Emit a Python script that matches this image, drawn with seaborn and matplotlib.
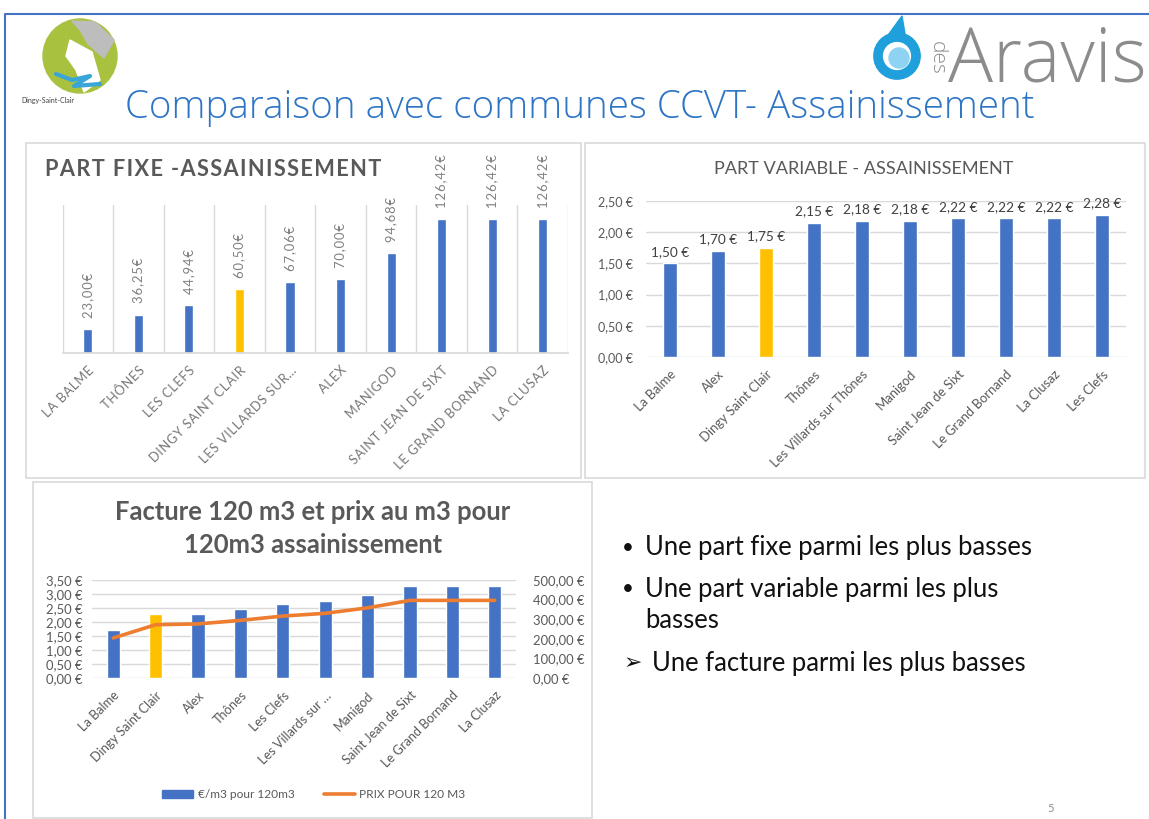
import numpy as np
import matplotlib
matplotlib.use("Agg")
import matplotlib.pyplot as plt
import seaborn as sns
from matplotlib.patches import Rectangle, Circle, Polygon
from matplotlib.lines import Line2D

# ---------------- data ----------------
fixe_cats = ["LA BALME", "THÔNES", "LES CLEFS", "DINGY SAINT CLAIR", "LES VILLARDS SUR…",
             "ALEX", "MANIGOD", "SAINT JEAN DE SIXT", "LE GRAND BORNAND", "LA CLUSAZ"]
fixe_vals = [23.00, 36.25, 44.94, 60.50, 67.06, 70.00, 94.68, 126.42, 126.42, 126.42]

var_cats = ["La Balme", "Alex", "Dingy Saint Clair", "Thônes", "Les Villards sur Thônes",
            "Manigod", "Saint Jean de Sixt", "Le Grand Bornand", "La Clusaz", "Les Clefs"]
var_vals = [1.50, 1.70, 1.75, 2.15, 2.18, 2.18, 2.22, 2.22, 2.22, 2.28]

fact_cats = ["La Balme", "Dingy Saint Clair", "Alex", "Thônes", "Les Clefs", "Les Villards sur …",
             "Manigod", "Saint Jean de Sixt", "Le Grand Bornand", "La Clusaz"]
fact_m3 = [1.70, 2.27, 2.30, 2.45, 2.63, 2.75, 2.98, 3.30, 3.30, 3.30]
fact_prix = [204, 272, 276, 294, 316, 330, 358, 396, 396, 396]

var_ticks = [0.0, 0.5, 1.0, 1.5, 2.0, 2.5]
fact_left_ticks = [0.0, 0.5, 1.0, 1.5, 2.0, 2.5, 3.0, 3.5]
fact_right_ticks = [0, 100, 200, 300, 400, 500]

highlight = "DINGY SAINT CLAIR"
series_names = ["€/m3 pour 120m3", "PRIX POUR 120 M3"]
bullets = ["Une part fixe parmi les plus basses",
           "Une part variable parmi les plus",
           "basses",
           "Une facture parmi les plus basses"]

# ---------------- style ----------------
sns.set_theme(style="white")
plt.rcParams["font.family"] = ["Lato", "DejaVu Sans"]

BLUE = "#4472C4"
YELLOW = "#FFC000"
ORANGE = "#ED7D31"
GRID = "#D9D9D9"
GREY = "#595959"
FAM = ["Lato", "DejaVu Sans"]
LIGHT = ["Open Sans", "DejaVu Sans"]

W, H = 1149, 819
fig = plt.figure(figsize=(W / 100, H / 100), dpi=100)
fig.patch.set_facecolor("white")


def rect(x0, y0, x1, y1):
    return [x0 / W, 1 - y1 / H, (x1 - x0) / W, (y1 - y0) / H]


def pal(cats):
    return [YELLOW if c.upper() == highlight else BLUE for c in cats]


def eur(v, dec=2, sep=" "):
    return f"{v:,.{dec}f}".replace(",", " ").replace(".", ",") + sep + "€"


def track(s, sp="\u200a"):
    return sp.join(s)


bg = fig.add_axes([0, 0, 1, 1], zorder=-5)
bg.set_xlim(0, W)
bg.set_ylim(H, 0)
bg.axis("off")
renderer = fig.canvas.get_renderer()


def fit_text(ax, x, y, s, width, **kw):
    t = ax.text(x, y, s, **kw)
    bb = t.get_window_extent(renderer)
    t.set_fontsize(t.get_fontsize() * width / bb.width)
    return t


# slide border
bg.add_line(Line2D([5, 5, W], [H, 14, 14], color="#4472C4", lw=1.5))

# chart frames
for (x0, y0, x1, y1) in [(26, 143, 581, 478), (585, 143, 1145, 478), (33, 482, 592, 818)]:
    bg.add_patch(Rectangle((x0, y0), x1 - x0, y1 - y0, fill=False, ec=GRID, lw=1.2))

# left logo (approximation)
bg.add_patch(Circle((80, 56), 37, color="#A8C240"))
bg.add_patch(Polygon([[72, 21], [95, 22], [114, 40], [104, 58], [88, 44], [80, 30]], color="#BDBDBD"))
bg.add_patch(Polygon([[70, 40], [92, 52], [100, 80], [84, 92], [76, 70], [66, 56]], color="white"))
bg.add_line(Line2D([56, 72, 90, 74, 100], [74, 80, 76, 86, 84], color="#3AA6D8", lw=3))
bg.text(48, 101, "Dingy-Saint-Clair", fontsize=5, color="#404040", ha="center", va="center")

# right logo (approximation)
bg.add_patch(Polygon([[886, 38], [902, 16], [906, 40]], color="#1F9FDB"))
bg.add_patch(Circle((897, 56), 19, fill=False, ec="#1F9FDB", lw=7))
bg.add_patch(Circle((899, 58), 10, color="#8FD3F2"))
bg.text(937, 58, "des", rotation=-90, fontsize=15, color="#8C8C8C", ha="center", va="center",
        family=LIGHT, fontweight="light")
fit_text(bg, 948, 82, "Aravis", 198, fontsize=40, color="#8C8C8C", ha="left", va="baseline",
         family=LIGHT, fontweight="light")

# slide title
fit_text(bg, 125, 118, "Comparaison avec communes CCVT- Assainissement", 910, fontsize=28,
         color="#2E75C5", ha="left", va="baseline", family=LIGHT, fontweight="light")

# ---------------- chart 1 : part fixe ----------------
ax1 = fig.add_axes(rect(62.5, 205, 568, 353))
ax1.set_facecolor("none")
sns.barplot(x=fixe_cats, y=fixe_vals, hue=fixe_cats, palette=pal(fixe_cats), width=0.18,
            saturation=1, legend=False, ax=ax1)
ax1.set_ylim(0, 139.6)
ax1.set_xlim(-0.5, len(fixe_cats) - 0.5)
ax1.set_yticks([])
ax1.set_xticks(np.arange(len(fixe_cats) + 1) - 0.5, minor=True)
ax1.grid(which="minor", axis="x", color=GRID, lw=1)
ax1.grid(which="major", visible=False)
for s in ["top", "left", "right"]:
    ax1.spines[s].set_visible(False)
ax1.spines["bottom"].set_color(GRID)
ax1.set_xticks(range(len(fixe_cats)), labels=[track(c) for c in fixe_cats], rotation=45,
               ha="right", rotation_mode="anchor", fontsize=9.2, color="#767676", family=FAM)
ax1.tick_params(axis="x", which="both", length=0, pad=8)
for c in ax1.containers:
    ax1.bar_label(c, fmt=lambda v: track(eur(v, sep="")), rotation=90, padding=8,
                  fontsize=9.4, color="#808080", clip_on=False, family=FAM)
ax1.set_xlabel("")
ax1.set_ylabel("")
fit_text(bg, 45, 169, track("PART FIXE -ASSAINISSEMENT"), 335, fontsize=13.5,
         fontweight="bold", color=GREY, ha="left", va="center", family=FAM)

# ---------------- chart 2 : part variable ----------------
ax2 = fig.add_axes(rect(646, 201, 1126, 357))
ax2.set_facecolor("none")
sns.barplot(x=var_cats, y=var_vals, hue=var_cats, palette=pal(var_cats), width=0.31,
            saturation=1, legend=False, ax=ax2)
ax2.set_ylim(0, 2.5)
ax2.set_xlim(-0.5, len(var_cats) - 0.5)
ax2.set_yticks(var_ticks, labels=[eur(v) for v in var_ticks], fontsize=9, color=GREY)
ax2.grid(axis="y", color=GRID, lw=1)
ax2.set_axisbelow(True)
for s in ax2.spines.values():
    s.set_visible(False)
ax2.set_xticks(range(len(var_cats)), labels=var_cats, rotation=45, ha="right",
               rotation_mode="anchor", fontsize=9.4, color=GREY)
ax2.tick_params(axis="both", length=0)
ax2.tick_params(axis="x", pad=8)
ax2.tick_params(axis="y", pad=9)
for c in ax2.containers:
    ax2.bar_label(c, fmt=lambda v: eur(v), padding=4, fontsize=9.8, color="#404040",
                  clip_on=False)
ax2.set_xlabel("")
ax2.set_ylabel("")
fit_text(bg, 864, 169, "PART VARIABLE - ASSAINISSEMENT", 302, fontsize=12.5, color=GREY,
         ha="center", va="center")

# ---------------- chart 3 : facture ----------------
ax3 = fig.add_axes(rect(92, 580, 516, 678))
ax3.set_facecolor("none")
sns.barplot(x=fact_cats, y=fact_m3, hue=fact_cats, palette=pal(fact_cats), width=0.31,
            saturation=1, legend=False, ax=ax3)
ax3.set_ylim(0, 3.5)
ax3.set_xlim(-0.5, len(fact_cats) - 0.5)
ax3.set_yticks(fact_left_ticks, labels=[eur(v) for v in fact_left_ticks], fontsize=9.4,
               color=GREY)
ax3.grid(axis="y", color=GRID, lw=1)
ax3.set_axisbelow(True)
for s in ax3.spines.values():
    s.set_visible(False)
ax3.set_xticks(range(len(fact_cats)), labels=fact_cats, rotation=45, ha="right",
               rotation_mode="anchor", fontsize=9.2, color=GREY)
ax3.tick_params(axis="both", length=0)
ax3.tick_params(axis="x", pad=8)
ax3.tick_params(axis="y", pad=7)
ax3.set_xlabel("")
ax3.set_ylabel("")

ax3b = ax3.twinx()
sns.lineplot(x=np.arange(len(fact_cats)), y=fact_prix, color=ORANGE, lw=2.6, ax=ax3b)
ax3b.set_ylim(0, 500)
ax3b.set_xlim(-0.5, len(fact_cats) - 0.5)
ax3b.set_yticks(fact_right_ticks, labels=[eur(v) for v in fact_right_ticks], fontsize=9.4,
                color=GREY)
ax3b.tick_params(axis="y", length=0, pad=12)
ax3b.grid(False)
for s in ax3b.spines.values():
    s.set_visible(False)
ax3b.set_ylabel("")

t3 = fit_text(bg, 313, 512, "Facture 120 m3 et prix au m3 pour", 397, fontsize=15,
              fontweight="bold", color=GREY, ha="center", va="center")
bg.text(313, 545, "120m3 assainissement", fontsize=t3.get_fontsize(), fontweight="bold",
        color=GREY, ha="center", va="center")

handles = [Rectangle((0, 0), 1, 1, color=BLUE), Line2D([0], [0], color=ORANGE, lw=2.6)]
fig.legend(handles, series_names, loc="center", bbox_to_anchor=(314 / W, 1 - 795 / H),
           ncol=2, frameon=False, fontsize=8.6, labelcolor=GREY, handlelength=2.6,
           handleheight=0.6, columnspacing=2.4, handletextpad=0.4)

# ---------------- bullets ----------------
t0 = fit_text(bg, 645, 548, bullets[0], 390, fontsize=16, color="#111111", ha="left",
              va="center", family=FAM)
fs = t0.get_fontsize()
bg.text(628, 548, "•", fontsize=fs * 0.8, color="#111111", ha="center", va="center")
bg.text(645, 589, bullets[1], fontsize=fs, color="#111111", ha="left", va="center", family=FAM)
bg.text(628, 589, "•", fontsize=fs * 0.8, color="#111111", ha="center", va="center")
bg.text(645, 621, bullets[2], fontsize=fs, color="#111111", ha="left", va="center", family=FAM)
bg.text(633, 663, "➢", fontsize=fs * 0.85, color="#111111", ha="center", va="center",
        family=["DejaVu Sans"])
bg.text(652, 663, bullets[3], fontsize=fs, color="#111111", ha="left", va="center", family=FAM)

bg.text(1051, 808, "5", fontsize=8, color="#8C8C8C", ha="center", va="center")

fig.savefig("out.png", dpi=100)
